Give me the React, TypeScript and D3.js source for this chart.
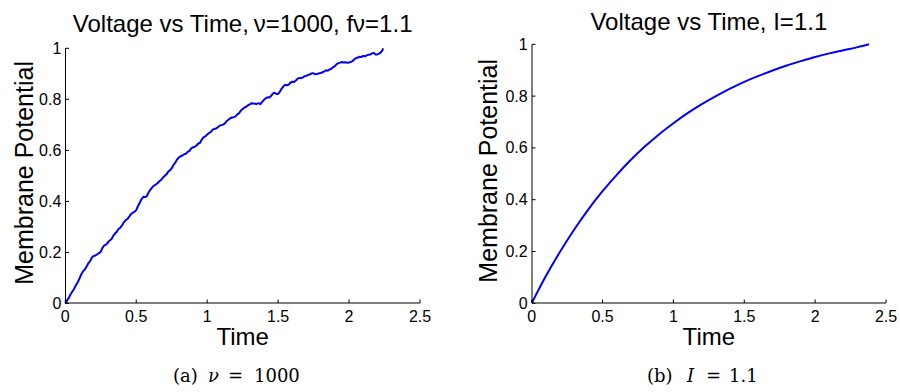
import React from "react";
import * as d3 from "d3";

// Left panel: noisy membrane trace (Poisson input, ν = 1000)
const noisyTime = [
  0.0, 0.0125, 0.025, 0.0375, 0.05, 0.0625, 0.075, 0.0875, 0.1, 0.1125, 0.125, 0.1375, 0.15, 0.1625, 0.175, 0.1875,
  0.2, 0.2125, 0.225, 0.2375, 0.25, 0.2625, 0.275, 0.2875, 0.3, 0.3125, 0.325, 0.3375, 0.35, 0.3625, 0.375, 0.3875,
  0.4, 0.4125, 0.425, 0.4375, 0.45, 0.4625, 0.475, 0.4875, 0.5, 0.5125, 0.525, 0.5375, 0.55, 0.5625, 0.575, 0.5875,
  0.6, 0.6125, 0.625, 0.6375, 0.65, 0.6625, 0.675, 0.6875, 0.7, 0.7125, 0.725, 0.7375, 0.75, 0.7625, 0.775, 0.7875,
  0.8, 0.8125, 0.825, 0.8375, 0.85, 0.8625, 0.875, 0.8875, 0.9, 0.9125, 0.925, 0.9375, 0.95, 0.9625, 0.975, 0.9875,
  1.0, 1.0125, 1.025, 1.0375, 1.05, 1.0625, 1.075, 1.0875, 1.1, 1.1125, 1.125, 1.1375, 1.15, 1.1625, 1.175, 1.1875,
  1.2, 1.2125, 1.225, 1.2375, 1.25, 1.2625, 1.275, 1.2875, 1.3, 1.3125, 1.325, 1.3375, 1.35, 1.3625, 1.375, 1.3875,
  1.4, 1.4125, 1.425, 1.4375, 1.45, 1.4625, 1.475, 1.4875, 1.5, 1.5125, 1.525, 1.5375, 1.55, 1.5625, 1.575, 1.5875,
  1.6, 1.6125, 1.625, 1.6375, 1.65, 1.6625, 1.675, 1.6875, 1.7, 1.7125, 1.725, 1.7375, 1.75, 1.7625, 1.775, 1.7875,
  1.8, 1.8125, 1.825, 1.8375, 1.85, 1.8625, 1.875, 1.8875, 1.9, 1.9125, 1.925, 1.9375, 1.95, 1.9625, 1.975, 1.9875,
  2.0, 2.0125, 2.025, 2.0375, 2.05, 2.0625, 2.075, 2.0875, 2.1, 2.1125, 2.125, 2.1375, 2.15, 2.1625, 2.175, 2.1875,
  2.2, 2.2125, 2.225, 2.235, 2.24,
];
const noisyVoltage = [
  0.0, 0.012, 0.022, 0.036, 0.047, 0.058, 0.072, 0.083, 0.098, 0.114, 0.126, 0.133, 0.145, 0.158, 0.166, 0.18,
  0.186, 0.188, 0.193, 0.197, 0.203, 0.219, 0.228, 0.231, 0.239, 0.247, 0.252, 0.265, 0.274, 0.281, 0.292, 0.297,
  0.306, 0.318, 0.326, 0.331, 0.34, 0.35, 0.356, 0.359, 0.366, 0.382, 0.395, 0.409, 0.418, 0.417, 0.421, 0.436,
  0.446, 0.455, 0.462, 0.466, 0.471, 0.479, 0.484, 0.493, 0.5, 0.506, 0.516, 0.522, 0.53, 0.543, 0.552, 0.564,
  0.572, 0.577, 0.58, 0.585, 0.587, 0.594, 0.598, 0.608, 0.612, 0.614, 0.619, 0.627, 0.63, 0.643, 0.652, 0.655,
  0.662, 0.668, 0.672, 0.68, 0.684, 0.686, 0.69, 0.697, 0.699, 0.701, 0.706, 0.715, 0.72, 0.726, 0.729, 0.73,
  0.733, 0.741, 0.746, 0.756, 0.762, 0.768, 0.771, 0.777, 0.78, 0.785, 0.784, 0.783, 0.782, 0.785, 0.781, 0.79,
  0.798, 0.804, 0.808, 0.807, 0.813, 0.822, 0.826, 0.821, 0.821, 0.83, 0.842, 0.851, 0.857, 0.855, 0.858, 0.866,
  0.869, 0.868, 0.874, 0.881, 0.884, 0.883, 0.886, 0.891, 0.892, 0.896, 0.898, 0.902, 0.902, 0.898, 0.899, 0.902,
  0.903, 0.906, 0.909, 0.914, 0.912, 0.917, 0.92, 0.926, 0.93, 0.938, 0.942, 0.944, 0.946, 0.944, 0.945, 0.943,
  0.944, 0.947, 0.95, 0.957, 0.962, 0.964, 0.967, 0.966, 0.97, 0.969, 0.972, 0.975, 0.976, 0.98, 0.982, 0.976,
  0.976, 0.979, 0.985, 0.992, 1.0,
];

// Right panel: deterministic charging curve (I = 1.1)
const smoothTime = [
  0.0, 0.1, 0.2, 0.3, 0.4, 0.5, 0.6, 0.7, 0.8, 0.9, 1.0, 1.1, 1.2, 1.3, 1.4, 1.5, 1.6, 1.7, 1.8, 1.9,
  2.0, 2.1, 2.2, 2.3, 2.38,
];
const smoothVoltage = [
  0.0, 0.105, 0.199, 0.285, 0.363, 0.433, 0.496, 0.554, 0.606, 0.653, 0.695, 0.734, 0.769, 0.8, 0.829,
  0.855, 0.878, 0.899, 0.918, 0.935, 0.951, 0.965, 0.977, 0.989, 1.0,
];

const xTicks = [0, 0.5, 1, 1.5, 2, 2.5];
const yTicks = [0, 0.2, 0.4, 0.6, 0.8, 1];
const xTickLabels = ["0", "0.5", "1", "1.5", "2", "2.5"];
const yTickLabels = ["0", "0.2", "0.4", "0.6", "0.8", "1"];

const SANS = "'Liberation Sans', Arial, Helvetica, sans-serif";
const SERIF = "'DejaVu Serif', 'Liberation Serif', serif";

type PanelProps = {
  x0: number;
  x1: number;
  yTop: number;
  yBottom: number;
  title: string;
  titleY: number;
  t: number[];
  v: number[];
  smooth: boolean;
  yAxisOffset: number;
  xAxisOffset: number;
  yLabelX: number;
};

function Panel(p: PanelProps) {
  const x = d3.scaleLinear().domain([0, 2.5]).range([p.x0, p.x1]);
  const y = d3.scaleLinear().domain([0, 1]).range([p.yBottom, p.yTop]);
  const pts: [number, number][] = p.t.map((tt, i) => [tt, p.v[i]]);
  const line = d3
    .line<[number, number]>()
    .x((d) => x(d[0]))
    .y((d) => y(d[1]))
    .curve(p.smooth ? d3.curveMonotoneX : d3.curveLinear);
  const axX = p.x0 + p.yAxisOffset;
  const axY = p.yBottom + p.xAxisOffset;
  const cx = (p.x0 + p.x1) / 2;
  const cy = (p.yTop + p.yBottom) / 2;
  return (
    <g>
      <text x={cx} y={p.titleY} textAnchor="middle" fontFamily={SANS} fontSize={24} fill="#000">
        {p.title}
      </text>
      <path d={line(pts) ?? ""} fill="none" stroke="#0000ff" strokeWidth={2} strokeLinejoin="round" />
      {/* axes (box off) */}
      <line x1={axX} x2={axX} y1={y(1)} y2={axY} stroke="#000" strokeWidth={1} />
      <line x1={axX} x2={p.x1} y1={axY} y2={axY} stroke="#000" strokeWidth={1} />
      {xTicks.map((tk, i) => (
        <g key={"x" + i}>
          <line x1={x(tk)} x2={x(tk)} y1={axY} y2={axY - 3.5} stroke="#000" strokeWidth={1} />
          <text x={x(tk)} y={p.yBottom + 18.5} textAnchor="middle" fontFamily={SANS} fontSize={16} fill="#000">
            {xTickLabels[i]}
          </text>
        </g>
      ))}
      {yTicks.map((tk, i) => (
        <g key={"y" + i}>
          <line x1={axX} x2={axX + 3.5} y1={y(tk)} y2={y(tk)} stroke="#000" strokeWidth={1} />
          <text x={p.x0 - 4} y={y(tk) + 5.5} textAnchor="end" fontFamily={SANS} fontSize={16} fill="#000">
            {yTickLabels[i]}
          </text>
        </g>
      ))}
      <text x={cx} y={p.yBottom + 41.5} textAnchor="middle" fontFamily={SANS} fontSize={24} fill="#000">
        Time
      </text>
      <text
        transform={`translate(${p.yLabelX},${cy - 3}) rotate(-90)`}
        textAnchor="middle"
        fontFamily={SANS}
        fontSize={25}
        fill="#000"
      >
        Membrane Potential
      </text>
    </g>
  );
}

type CaptionProps = { cx: number; tag: string; sym: string; value: string; offs: number[] };

// Sub-figure caption: "(tag)  sym = value", with the symbol set in math italic
function Caption({ cx, tag, sym, value, offs }: CaptionProps) {
  const base = { y: 381.5, fontFamily: SERIF, fontSize: 18, fill: "#000" };
  return (
    <g>
      <text x={cx + offs[0]} {...base}>{tag}</text>
      <text x={cx + offs[1]} {...base} fontStyle="italic">{sym}</text>
      <text x={cx + offs[2]} {...base}>=</text>
      <text x={cx + offs[3]} {...base}>{value}</text>
    </g>
  );
}

export default function App() {
  return (
    <svg
      width={900}
      height={392}
      viewBox="0 0 900 392"
      style={{ position: "absolute", left: 0, top: 0, background: "#fff" }}
    >
      <rect width={900} height={392} fill="#fff" />
      <Panel
        x0={65.3}
        x1={420}
        yTop={48.3}
        yBottom={303.5}
        title={"Voltage vs Time,\u2009ν=1000, fν=1.1"}
        titleY={32}
        t={noisyTime}
        v={noisyVoltage}
        smooth={false}
        yAxisOffset={0.2}
        xAxisOffset={-0.5}
        yLabelX={33}
      />
      <Panel
        x0={531.7}
        x1={886}
        yTop={44.3}
        yBottom={303.3}
        title="Voltage vs Time, I=1.1"
        titleY={30}
        t={smoothTime}
        v={smoothVoltage}
        smooth={true}
        yAxisOffset={0.3}
        xAxisOffset={-0.3}
        yLabelX={497}
      />
      <Caption cx={235} tag="(a)" sym="ν" value="1000" offs={[-62, -27, -7, 19]} />
      <Caption cx={701} tag="(b)" sym="I" value="1.1" offs={[-54, -14, 5, 28]} />
    </svg>
  );
}
